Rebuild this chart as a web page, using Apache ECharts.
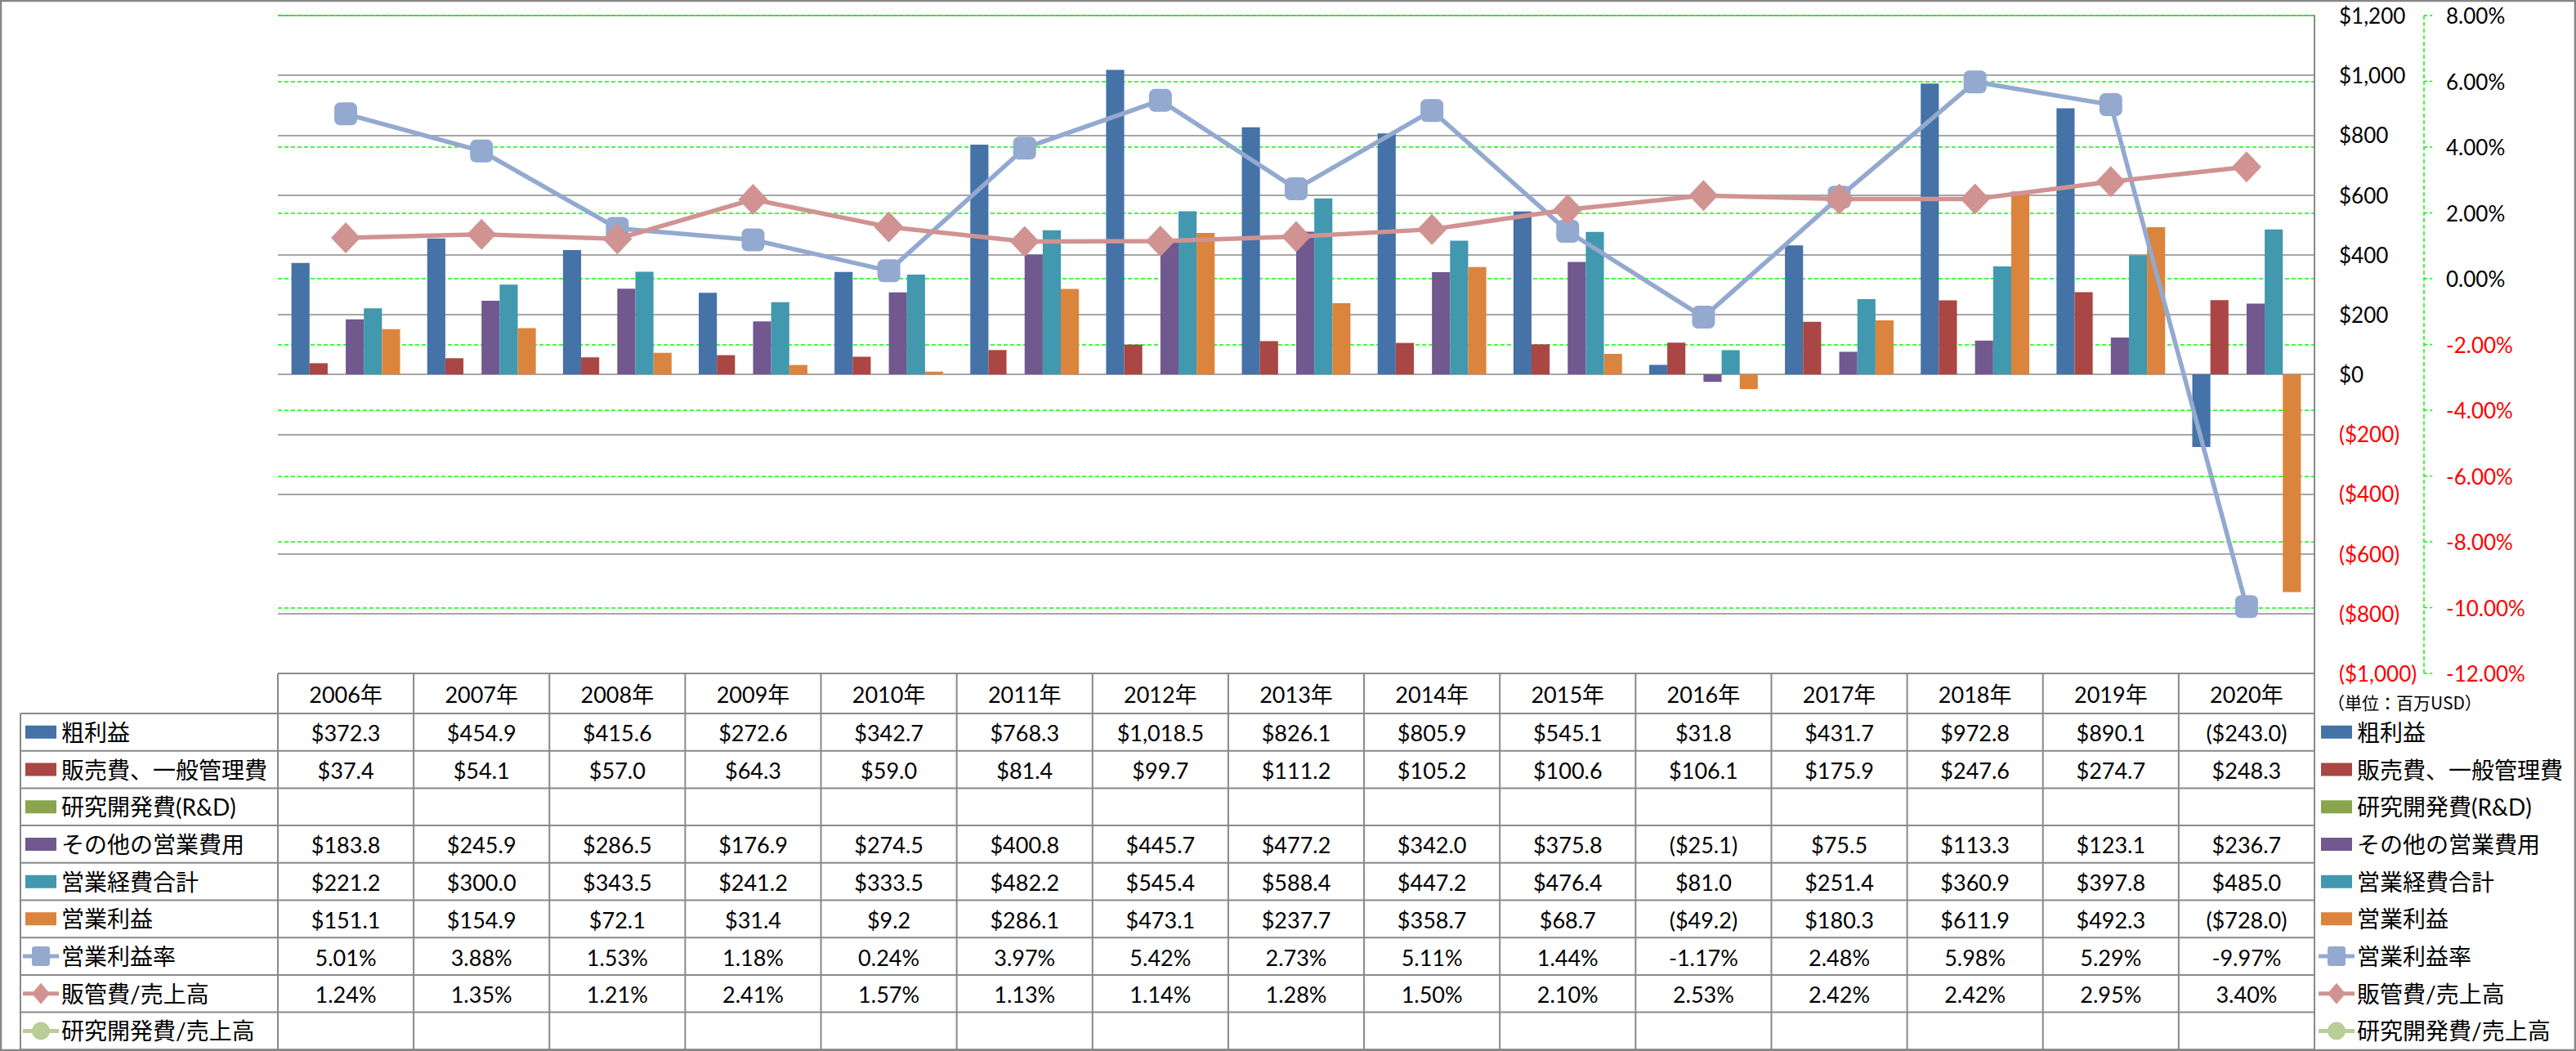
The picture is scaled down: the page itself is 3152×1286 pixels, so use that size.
<!DOCTYPE html>
<html><head><meta charset="utf-8">
<script src="https://cdn.jsdelivr.net/npm/echarts@6/dist/echarts.min.js"></script>
<style>html,body{margin:0;padding:0;background:#fff}#c{width:3152px;height:1286px}</style>
</head><body><div id="c"></div>
<script>
// ---------- data ----------
const years = ['2006年','2007年','2008年','2009年','2010年','2011年','2012年','2013年','2014年','2015年','2016年','2017年','2018年','2019年','2020年'];
const grossProfit     = [372.3, 454.9, 415.6, 272.6, 342.7, 768.3, 1018.5, 826.1, 805.9, 545.1, 31.8, 431.7, 972.8, 890.1, -243.0];
const sgaExpense      = [37.4, 54.1, 57.0, 64.3, 59.0, 81.4, 99.7, 111.2, 105.2, 100.6, 106.1, 175.9, 247.6, 274.7, 248.3];
const rdExpense       = [];
const otherOpex       = [183.8, 245.9, 286.5, 176.9, 274.5, 400.8, 445.7, 477.2, 342.0, 375.8, -25.1, 75.5, 113.3, 123.1, 236.7];
const totalOpex       = [221.2, 300.0, 343.5, 241.2, 333.5, 482.2, 545.4, 588.4, 447.2, 476.4, 81.0, 251.4, 360.9, 397.8, 485.0];
const operatingProfit = [151.1, 154.9, 72.1, 31.4, 9.2, 286.1, 473.1, 237.7, 358.7, 68.7, -49.2, 180.3, 611.9, 492.3, -728.0];
const opMarginPct     = [5.01, 3.88, 1.53, 1.18, 0.24, 3.97, 5.42, 2.73, 5.11, 1.44, -1.17, 2.48, 5.98, 5.29, -9.97];
const sgaRatioPct     = [1.24, 1.35, 1.21, 2.41, 1.57, 1.13, 1.14, 1.28, 1.50, 2.10, 2.53, 2.42, 2.42, 2.95, 3.40];
const rdRatioPct      = [];
const pctTicks        = [-12, -10, -8, -6, -4, -2, 0, 2, 4, 6, 8];
const seriesNames = ['粗利益','販売費、一般管理費','研究開発費(R&D)','その他の営業費用','営業経費合計','営業利益','営業利益率','販管費/売上高','研究開発費/売上高'];
const unitLabel = '（単位：百万USD）';

// ---------- styles ----------
const FONT = 'Lato, "Noto Sans CJK JP", sans-serif';
const GREEN = '#00FF00';
const defs = [
  {data: grossProfit,     kind:'bar',  color:'#4572A7', fmt:'money'},
  {data: sgaExpense,      kind:'bar',  color:'#AA4643', fmt:'money'},
  {data: rdExpense,       kind:'bar',  color:'#89A54E', fmt:'money'},
  {data: otherOpex,       kind:'bar',  color:'#71588F', fmt:'money'},
  {data: totalOpex,       kind:'bar',  color:'#4198AF', fmt:'money'},
  {data: operatingProfit, kind:'bar',  color:'#DB843D', fmt:'money'},
  {data: opMarginPct,     kind:'line', color:'#93A9CF', fmt:'pct', symbol:'roundRect', size:[28,28], lw:5.5},
  {data: sgaRatioPct,     kind:'line', color:'#D09392', fmt:'pct', symbol:'diamond', size:[36,38], lw:5.5},
  {data: rdRatioPct,      kind:'line', color:'#B9CD96', fmt:'pct', symbol:'circle', size:[26,26], lw:5.5}
];

function comma(n, d){
  const s = n.toFixed(d); const p = s.split('.');
  p[0] = p[0].replace(/\B(?=(\d{3})+(?!\d))/g, ',');
  return p.join('.');
}
function fmtMoney(v){ return v < 0 ? '($' + comma(-v,1) + ')' : '$' + comma(v,1); }
function fmtPct(v){ return v.toFixed(2) + '%'; }

const chart = echarts.init(document.getElementById('c'), null, {renderer:'svg'});

const series = defs.map((d, i) => {
  if (d.kind === 'bar') {
    return {name: seriesNames[i], type:'bar', yAxisIndex:0, data:d.data, barGap:'0%', barCategoryGap:'20%',
      itemStyle:{color:d.color}, animation:false};
  }
  return {name: seriesNames[i], type:'line', yAxisIndex:1, data:d.data, symbol:d.symbol, symbolSize:d.size,
    lineStyle:{color:d.color, width:d.lw}, itemStyle:{color:d.color}, z:5, animation:false};
});

const labelRich = {
  p:{color:'#000', fontSize:26, fontFamily:FONT},
  n:{color:'#FF0000', fontSize:26, fontFamily:FONT}
};

chart.setOption({
  backgroundColor:'#fff',
  animation:false,
  grid:{left:340, right:320, top:19, bottom:462, containLabel:false, show:false},
  xAxis:{type:'category', data:years, boundaryGap:true,
    axisLine:{show:false, onZero:false}, axisTick:{show:false}, axisLabel:{show:false},
    splitLine:{show:false}, splitArea:{show:false}},
  yAxis:[
    {type:'value', position:'right', min:-1000, max:1200, interval:200,
      axisLine:{show:true, onZero:false, lineStyle:{color:'#888', width:2}},
      axisTick:{show:false},
      axisLabel:{margin:30, align:'left', rich:labelRich,
        formatter:v => v < 0 ? '{n|($' + comma(-v,0) + ')}' : '{p|$' + comma(v,0) + '}'},
      splitLine:{show:true, lineStyle:{color:'#888', width:1.5}}},
    {type:'value', position:'right', offset:134, min:-12, max:8, interval:2,
      axisLine:{show:false, onZero:false},
      axisTick:{show:false},
      axisLabel:{margin:27, align:'left', rich:labelRich,
        formatter:v => v < 0 ? '{n|' + v.toFixed(2) + '%}' : '{p|' + v.toFixed(2) + '%}'},
      splitLine:{show:true, lineStyle:{color:GREEN, width:1.5, type:[5,3]}}}
  ],
  series: series
});

// ---------- data table, legend, secondary axis line (graphic) ----------
const c0 = chart.convertToPixel({xAxisIndex:0}, 0);
const c1 = chart.convertToPixel({xAxisIndex:0}, 1);
const band = c1 - c0;
const tableTop = chart.convertToPixel({yAxisIndex:0}, -1000);
const plotTop = chart.convertToPixel({yAxisIndex:0}, 1200);
const plotLeft = c0 - band/2;
const plotRight = chart.convertToPixel({xAxisIndex:0}, years.length-1) + band/2;
const headerH = 49, rowH = 45.7;
const rowLeft = 25;
const tableBottom = tableTop + headerH + rowH * seriesNames.length;
const LINE = '#898989';
const els = [];
function ln(x1,y1,x2,y2){ els.push({type:'line', silent:true, shape:{x1,y1,x2,y2}, style:{stroke:LINE, lineWidth:2}}); }
function tx(x,y,t,size,align){ els.push({type:'text', silent:true, x, y, style:{text:t, fill:'#000', font: size + 'px ' + FONT, textAlign:align||'center', textVerticalAlign:'middle'}}); }
function key(i, cx, cy){
  const d = defs[i];
  if (d.kind === 'bar') {
    els.push({type:'rect', silent:true, shape:{x:cx-19, y:cy-8, width:38, height:16}, style:{fill:d.color}});
    return;
  }
  els.push({type:'line', silent:true, shape:{x1:cx-22, y1:cy, x2:cx+22, y2:cy}, style:{stroke:d.color, lineWidth:5}});
  if (d.symbol === 'roundRect') els.push({type:'rect', silent:true, shape:{x:cx-11, y:cy-12, width:22, height:24, r:3}, style:{fill:d.color}});
  else if (d.symbol === 'diamond') els.push({type:'polygon', silent:true, shape:{points:[[cx,cy-13],[cx+11,cy],[cx,cy+13],[cx-11,cy]]}, style:{fill:d.color}});
  else els.push({type:'circle', silent:true, shape:{cx, cy, r:11}, style:{fill:d.color}});
}

// secondary axis line + ticks (dashed green)
const secX = plotRight + 134;
els.push({type:'line', silent:true, shape:{x1:secX, y1:plotTop, x2:secX, y2:tableTop}, style:{stroke:GREEN, lineWidth:1.5, lineDash:[5,3]}});
pctTicks.forEach(v => {
  const y = chart.convertToPixel({yAxisIndex:1}, v);
  els.push({type:'line', silent:true, shape:{x1:secX, y1:y, x2:secX+10, y2:y}, style:{stroke:GREEN, lineWidth:1.5, lineDash:[4,3]}});
});

// header
ln(plotLeft, tableTop, plotRight, tableTop);
years.forEach((y, j) => {
  const cx = chart.convertToPixel({xAxisIndex:0}, j);
  tx(cx, tableTop + headerH/2 + 1, y, 27);
});
// rows
for (let i = 0; i < seriesNames.length; i++) {
  const top = tableTop + headerH + rowH * i;
  const cy = top + rowH/2;
  ln(rowLeft, top, plotRight, top);
  key(i, 50, cy);
  tx(75, cy, seriesNames[i], 28, 'left');
  key(i, 2859, cy);
  tx(2884, cy, seriesNames[i], 28, 'left');
  const d = defs[i];
  d.data.forEach((v, j) => {
    if (v === null || v === undefined) return;
    const cx = chart.convertToPixel({xAxisIndex:0}, j);
    tx(cx, cy + 1, d.fmt === 'money' ? fmtMoney(v) : fmtPct(v), 27);
  });
}
ln(rowLeft, tableBottom, plotRight, tableBottom);
// verticals
ln(rowLeft, tableTop + headerH, rowLeft, tableBottom);
for (let j = 0; j <= years.length; j++) {
  const x = plotLeft + band * j;
  ln(x, tableTop, x, tableBottom);
}
// unit label
els.push({type:'text', silent:true, x:2848, y:tableTop + 35, style:{text:unitLabel, fill:'#000', font:'21px "Noto Sans CJK JP", sans-serif', textAlign:'left', textVerticalAlign:'middle'}});
// outer border
els.push({type:'rect', silent:true, shape:{x:1, y:1, width:3150, height:1284}, style:{fill:'none', stroke:'#868686', lineWidth:2.5}});

chart.setOption({graphic:{elements: els}});
</script></body></html>
